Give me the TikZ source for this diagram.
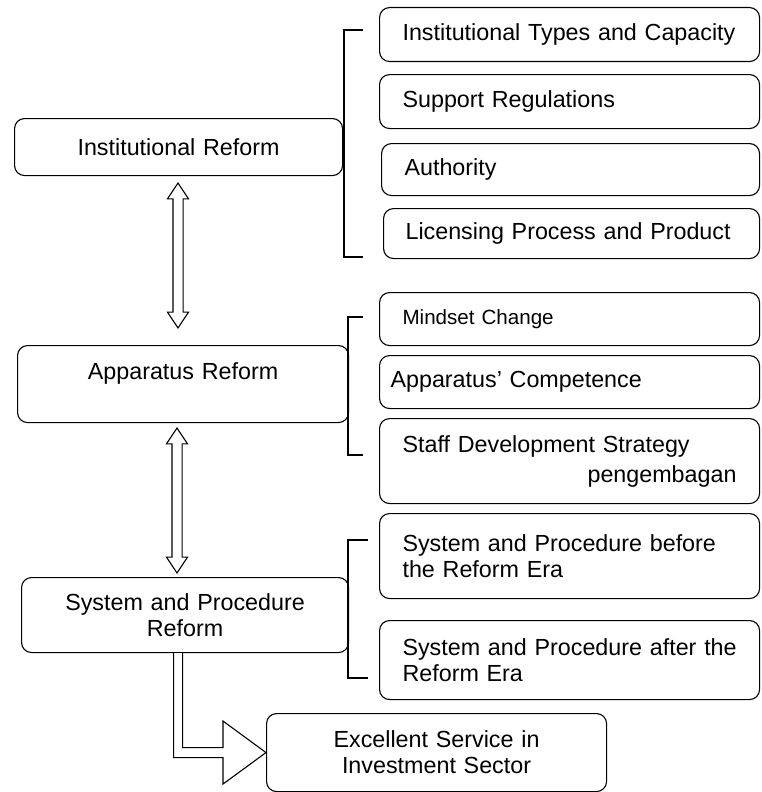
\documentclass[tikz,border=0pt]{standalone}
\usepackage{fontspec}
\setmainfont{Liberation Sans}
\usetikzlibrary{shapes.arrows,calc}

\begin{document}
\begin{tikzpicture}[x=1pt,y=-1pt,line width=1.1pt,
                    font=\fontsize{23.3}{26}\selectfont,
                    mainbox/.style={draw,rounded corners=10pt,fill=white,anchor=north west,
                                    align=center,inner sep=0pt},
                    subbox/.style={draw,rounded corners=10pt,fill=white,anchor=north west,
                                   align=left,inner ysep=0pt,inner xsep=23pt,text width=334pt},
                    twoway/.style={double arrow,draw,fill=white,rotate=90,inner xsep=0pt,inner ysep=4.5pt,
                                   double arrow head extend=5.5pt,double arrow tip angle=67,
                                   minimum height=145pt}]
                    \useasboundingbox (0,0) rectangle (761,792);
                    \node[mainbox,text width=328pt,minimum height=57pt] (instref) at (14,118) {Institutional Reform};
                    \node[mainbox,text width=331pt,minimum height=77pt,text depth=25pt] (appref) at (17,345) {Apparatus Reform};
                    \node[mainbox,text width=327pt,minimum height=75pt] (sysref) at (21,577) {System and Procedure\\Reform};
                    \node[mainbox,text width=340pt,minimum height=78pt] (excell) at (266,713) {Excellent Service in\\Investment Sector};
                    \node[subbox,minimum height=54pt] (types) at (379,7) {Institutional Types and Capacity};
                    \node[subbox,minimum height=54pt] (supreg) at (379,74) {Support Regulations};
                    \node[subbox,minimum height=52pt,text width=332pt] (authority) at (381,143) {Authority};
                    \node[subbox,minimum height=50pt,inner xsep=22pt,text width=332pt] (licensing) at (383,208) {Licensing Process and Product};
                    \node[subbox,minimum height=53pt,font=\fontsize{20.6}{24}\selectfont] (mindset) at (379,292) {Mindset Change};
                    \node[subbox,minimum height=53pt,inner xsep=11pt,text width=358pt] (competence) at (379,355) {Apparatus’ Competence};
                    \node[subbox,minimum height=85pt] (staff) at (379,418) {Staff Development Strategy\\[4pt]\hspace*{\fill}pengembagan\hspace*{5pt}};
                    \node[subbox,minimum height=85pt] (before) at (379,513) {System and Procedure before\\the Reform Era};
                    \node[subbox,minimum height=79pt] (after) at (379,620) {\mbox{System and Procedure after the}\\Reform Era};
                    \node[twoway] (linkA) at (178,255.5) {};
                    \node[twoway] (linkB) at (177,500.5) {};
                    \draw (363,30) -| (344,257) -- (363,257);
                    \draw (363,317) -| (348,455) -- (363,455);
                    \draw (368,540) -| (348,678) -- (368,678);
                    \draw[fill=white] ($(sysref.south)+(-11.5,0)$) |- ($(excell.west)+(-43,5)$) -- ++(0,26.5)
                        -- (excell.west) -- ++(-43,-31.5) -- ++(0,26.5) -| ($(sysref.south)+(-2.5,0)$);
                \end{tikzpicture}
\end{document}
